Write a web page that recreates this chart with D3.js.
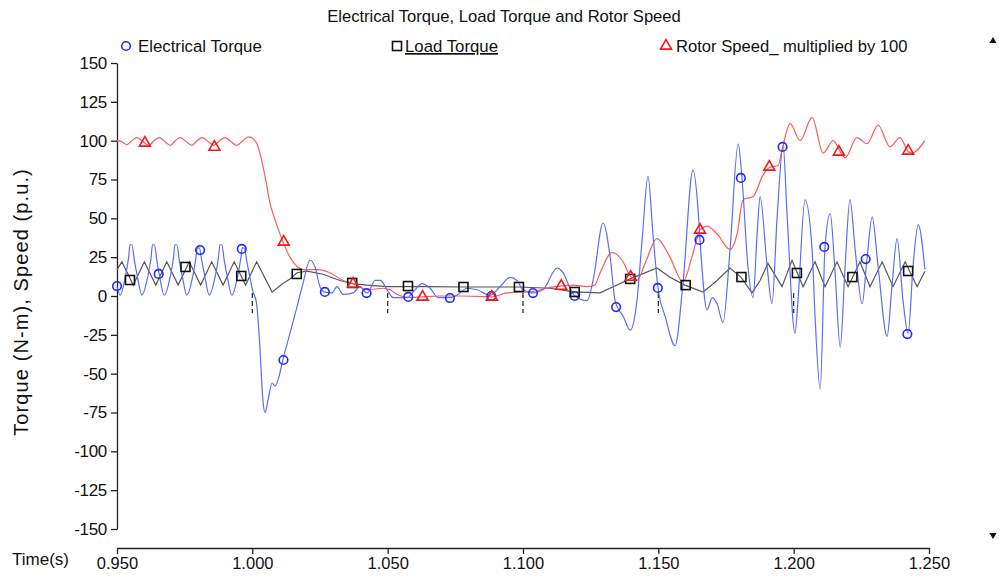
<!DOCTYPE html>
<html>
<head>
<meta charset="utf-8">
<script src="https://cdn.jsdelivr.net/npm/d3@7"></script>
<style>
  html, body { margin: 0; padding: 0; background: #fff; }
  svg text { font-family: "Liberation Sans", Arial, sans-serif; fill: #111; }
</style>
</head>
<body>
<svg id="chart" width="1000" height="577"></svg>
<script>
// ---------------- DATA ----------------
const chartTitle = "Electrical Torque, Load Torque and Rotor Speed";
const seriesNames = ["Electrical Torque", "Load Torque", "Rotor Speed_ multiplied by 100"];
const xTickValues = [0.95, 1.0, 1.05, 1.1, 1.15, 1.2, 1.25];
const yTickValues = [150, 125, 100, 75, 50, 25, 0, -25, -50, -75, -100, -125, -150];

// Electrical torque [time (s), N-m]
const electricalTorque = [
  [0.9500,6],[0.9512,0.5],[0.9530,12],[0.9543,25],[0.9548,33],[0.9555,33],[0.9565,22],[0.9575,13],[0.9592,0.5],
  [0.9613,12],[0.9626,25],[0.9631,33],[0.9638,33],[0.9648,22],[0.9656,14],[0.9675,0.5],
  [0.9696,12],[0.9709,25],[0.9714,33],[0.9721,33],[0.9731,22],[0.9741,13],[0.9758,0.5],
  [0.9779,12],[0.9792,25],[0.9797,31],[0.9804,31],[0.9814,22],[0.9824,13],[0.9841,0.5],
  [0.9862,12],[0.9875,25],[0.9880,33],[0.9887,33],[0.9897,22],[0.9907,13],[0.9924,0.5],
  [0.9945,12],[0.9958,25],[0.9963,31],[0.9970,31],[0.9980,22],[0.9990,13],[1.0002,3],
  [1.0015,-4],[1.0028,-33],[1.0039,-67],[1.0047,-75],[1.0058,-67],[1.0073,-56],[1.0084,-58],[1.0095,-54],
  [1.0113,-41],[1.0139,-24],[1.0165,-7],[1.0187,8],[1.0213,23],[1.0231,19],[1.0250,6],[1.0268,2.5],
  [1.0294,2],[1.0313,6],[1.0335,1],[1.0372,2],[1.0398,6],[1.0424,2],[1.0454,10],[1.0473,10],[1.0498,4],
  [1.0520,-1],[1.0572,-1],[1.0601,4],[1.0627,8],[1.0657,5],[1.0686,-1],[1.0730,-1],[1.0760,1],[1.0793,5],
  [1.0830,4],[1.0878,0.5],[1.0915,6],[1.0952,12],[1.0978,10],[1.1000,4],[1.1037,2],[1.1074,4],[1.1126,18],
  [1.1148,15],[1.1174,5],[1.1192,0],[1.1237,-3],[1.1259,10],[1.1296,47],[1.1322,25],[1.1340,-3],[1.1348,-7],
  [1.1370,-13],[1.1396,-22],[1.1421,-3],[1.1440,36],[1.1462,77],[1.1480,40],[1.1499,5],[1.1525,-13],[1.1562,-32],
  [1.1591,8],[1.1628,81],[1.1647,55],[1.1654,36],[1.1680,-9],[1.1699,-1],[1.1717,-5],[1.1739,-17],[1.1765,30],
  [1.1795,98],[1.1809,76],[1.1831,19],[1.1850,-1],[1.1865,40],[1.1876,64],[1.1902,19],[1.1920,-5],[1.1939,51],
  [1.1961,97],[1.1976,51],[1.2005,-24],[1.2016,-3],[1.2042,62],[1.2068,30],[1.2079,-13],[1.2098,-60],[1.2116,32],
  [1.2135,53],[1.2153,15],[1.2172,-33],[1.2190,19],[1.2208,62],[1.2227,30],[1.2253,-5],[1.2271,24],[1.2290,51],
  [1.2312,19],[1.2345,-26],[1.2364,8],[1.2382,37],[1.2404,-3],[1.2423,-24],[1.2441,19],[1.2460,46],[1.2485,17]
];

// Load torque [time (s), N-m]
const loadTorque = [
  [0.9500,17],[0.9518,22],[0.9560,7],[0.9601,22],[0.9643,7],[0.9684,22],[0.9726,7],[0.9767,22],[0.9809,7],
  [0.9850,22],[0.9892,7],[0.9933,22],[0.9975,7],[1.0016,22],[1.0073,2.5],[1.0113,8],[1.0139,11],[1.0165,15],
  [1.0202,16],[1.0261,14],[1.0324,10],[1.0372,8],[1.0424,7],[1.0498,6],[1.0572,6],[1.0657,6],[1.0778,5.8],
  [1.0982,5.8],[1.1100,5],[1.1189,2.6],[1.1285,2],[1.1333,6],[1.1396,11],[1.1495,18],[1.1543,12],[1.1598,7],
  [1.1665,2.5],[1.1717,10],[1.1765,18],[1.1806,12],[1.1846,2],[1.1876,10],[1.1905,21],[1.1957,6],[1.1994,23],
  [1.2013,15],[1.2035,6],[1.2079,22],[1.2116,6],[1.2160,22],[1.2201,6],[1.2245,22],[1.2282,6],[1.2327,22],
  [1.2367,6],[1.2412,22],[1.2456,6],[1.2485,16]
];

// Rotor speed x 100 [time (s), p.u. x 100]
const rotorSpeed = [
  [0.9500,100],[0.9515,99.5],[0.9537,97.5],[0.9555,100],[0.9574,102],[0.9595,99.5],[0.9618,97],[0.9637,100],
  [0.9656,102],[0.9676,99.5],[0.9697,97],[0.9715,100],[0.9734,102],[0.9755,99.5],[0.9777,97],[0.9796,100],
  [0.9815,102],[0.9837,99.5],[0.9858,97],[0.9879,100],[0.9899,102],[0.9920,99.5],[0.9943,97],[0.9965,100],
  [0.9986,102.5],[1.0005,101],[1.0017,98],[1.0028,92],[1.0047,77],[1.0065,60],[1.0084,49],[1.0102,40],
  [1.0113,35],[1.0139,25],[1.0165,19],[1.0187,17],[1.0239,17],[1.0287,15],[1.0335,10],[1.0372,8],[1.0424,4],
  [1.0483,5],[1.0509,4],[1.0535,1],[1.0583,-1],[1.0627,-0.5],[1.0693,0],[1.0767,0],[1.0886,-0.5],[1.0941,2],
  [1.1037,3],[1.1100,5.5],[1.1144,6.5],[1.1185,7],[1.1237,6],[1.1265,7],[1.1285,15],[1.1329,28],[1.1366,23],
  [1.1396,13],[1.1421,10],[1.1451,21],[1.1495,37],[1.1543,25],[1.1591,9],[1.1624,25],[1.1654,42.5],[1.1680,45],
  [1.1717,40],[1.1765,30],[1.1791,40],[1.1813,62],[1.1850,64],[1.1887,78],[1.1913,83],[1.1943,84],[1.1957,94],
  [1.1987,111],[1.2024,100],[1.2068,115],[1.2109,92],[1.2146,100],[1.2172,93],[1.2190,89],[1.2234,102],
  [1.2271,98],[1.2312,110],[1.2356,96],[1.2393,102],[1.2423,93],[1.2437,92],[1.2485,100]
];

// Marker positions
const circleTimes  = [0.9500,0.9654,0.9807,0.9961,1.0115,1.0268,1.0422,1.0576,1.0730,1.0883,1.1037,1.1191,1.1344,1.1498,1.1652,1.1805,1.1959,1.2113,1.2266,1.2420];
const circleValues = [6.4,14.2,29.6,30.3,-41.2,2.6,1.9,-0.6,-1.3,0,1.9,0,-7.1,5.2,36.1,76,96,31.6,23.8,-24.5];
const squareTimes  = [0.9548,0.9753,0.9959,1.0164,1.0369,1.0575,1.0780,1.0985,1.1191,1.1396,1.1601,1.1807,1.2012,1.2217,1.2423];
const squareValues = [10.3,18.7,12.9,14.2,8.4,6.4,5.8,5.8,2.6,11,7,12.2,14.8,12.2,16.1];
const triangleTimes  = [0.9603,0.9860,1.0116,1.0372,1.0629,1.0885,1.1141,1.1398,1.1654,1.1910,1.2167,1.2423];
const triangleValues = [98.5,95.9,34.8,7.7,-0.6,-0.6,6.4,12.2,42.5,83.1,92.7,93.4];

// short dashed marks at the interior time ticks
const dashTimes = [1.0, 1.05, 1.1, 1.15, 1.2];

// ---------------- DRAW ----------------
const svg = d3.select("#chart");
const x = d3.scaleLinear().domain([0.95, 1.25]).range([117, 929]);
const y = d3.scaleLinear().domain([-150, 150]).range([529, 63]);

const colBlueLine = "#5b6ef2", colBlueMark = "#1f2bf5";
const colRedLine = "#ff5a5a", colRedMark = "#f01818";
const colGrey = "#555555";

// title
svg.append("text").attr("x", 504).attr("y", 22).attr("text-anchor", "middle")
  .style("font-size", "16.6px").text(chartTitle);

// y axis
const yAxis = svg.append("g").attr("transform", "translate(117,0)")
  .call(d3.axisLeft(y).tickValues(yTickValues).tickSize(6).tickSizeOuter(0).tickPadding(4).tickFormat(d => String(d)));
yAxis.selectAll("text").style("font-size", "17px").style("letter-spacing", "-0.3px");
yAxis.selectAll("path,line").attr("stroke", "#222").attr("stroke-width", 1.3);

// x axis
const xAxis = svg.append("g").attr("transform", "translate(0,548)")
  .call(d3.axisBottom(x).tickValues(xTickValues).tickSize(6).tickSizeOuter(0).tickPadding(3).tickFormat(d3.format(".3f")));
xAxis.selectAll("text").style("font-size", "16.5px");
xAxis.selectAll("path,line").attr("stroke", "#222").attr("stroke-width", 1.3);

// axis titles
svg.append("text").attr("transform", "translate(28,302) rotate(-90)").attr("text-anchor", "middle")
  .style("font-size", "20px").style("letter-spacing", "1.1px").text("Torque (N-m), Speed (p.u.)");
svg.append("text").attr("x", 12).attr("y", 565).style("font-size", "17px").text("Time(s)");

// scroll arrows
svg.append("path").attr("d", d3.symbol(d3.symbolTriangle, 22)()).attr("transform", "translate(993,41)").attr("fill", "#111");
svg.append("path").attr("d", d3.symbol(d3.symbolTriangle, 22)()).attr("transform", "translate(993,535) rotate(180)").attr("fill", "#111");

// dashed tick marks
svg.append("g").selectAll("line").data(dashTimes).join("line")
  .attr("x1", d => x(d)).attr("x2", d => x(d))
  .attr("y1", y(2)).attr("y2", y(-11))
  .attr("stroke", "#222").attr("stroke-width", 1.2).attr("stroke-dasharray", "5,3");

const line = d3.line().x(d => x(d[0])).y(d => y(d[1]));
const smooth = d3.line().x(d => x(d[0])).y(d => y(d[1])).curve(d3.curveMonotoneX);

svg.append("path").datum(loadTorque).attr("d", line)
  .attr("fill", "none").attr("stroke", colGrey).attr("stroke-width", 1.2);
svg.append("path").datum(rotorSpeed).attr("d", smooth)
  .attr("fill", "none").attr("stroke", colRedLine).attr("stroke-width", 1.2);
svg.append("path").datum(electricalTorque).attr("d", smooth)
  .attr("fill", "none").attr("stroke", colBlueLine).attr("stroke-width", 1.2);

// markers
svg.append("g").selectAll("circle").data(d3.zip(circleTimes, circleValues)).join("circle")
  .attr("cx", d => x(d[0])).attr("cy", d => y(d[1])).attr("r", 4.3)
  .attr("fill", "none").attr("stroke", colBlueMark).attr("stroke-width", 1.6);
svg.append("g").selectAll("rect").data(d3.zip(squareTimes, squareValues)).join("rect")
  .attr("x", d => x(d[0]) - 4.5).attr("y", d => y(d[1]) - 4.5).attr("width", 9).attr("height", 9)
  .attr("fill", "none").attr("stroke", "#111").attr("stroke-width", 1.6);
const tri = d3.symbol(d3.symbolTriangle, 52)();
svg.append("g").selectAll("path").data(d3.zip(triangleTimes, triangleValues)).join("path")
  .attr("d", tri).attr("transform", d => `translate(${x(d[0])},${y(d[1])})`)
  .attr("fill", "none").attr("stroke", colRedMark).attr("stroke-width", 1.6);

// legend
const lg = svg.append("g");
lg.append("circle").attr("cx", 126).attr("cy", 46).attr("r", 4.3)
  .attr("fill", "none").attr("stroke", colBlueMark).attr("stroke-width", 1.6);
lg.append("text").attr("x", 138).attr("y", 52).style("font-size", "16.8px").text(seriesNames[0]);
lg.append("rect").attr("x", 392.5).attr("y", 41.5).attr("width", 9).attr("height", 9)
  .attr("fill", "none").attr("stroke", "#111").attr("stroke-width", 1.6);
lg.append("text").attr("x", 405).attr("y", 52).style("font-size", "16.8px")
  .style("text-decoration", "underline").text(seriesNames[1]);
lg.append("path").attr("d", tri).attr("transform", "translate(666,46)")
  .attr("fill", "none").attr("stroke", colRedMark).attr("stroke-width", 1.6);
lg.append("text").attr("x", 676).attr("y", 52).style("font-size", "16.6px").text(seriesNames[2]);
</script>
</body>
</html>
